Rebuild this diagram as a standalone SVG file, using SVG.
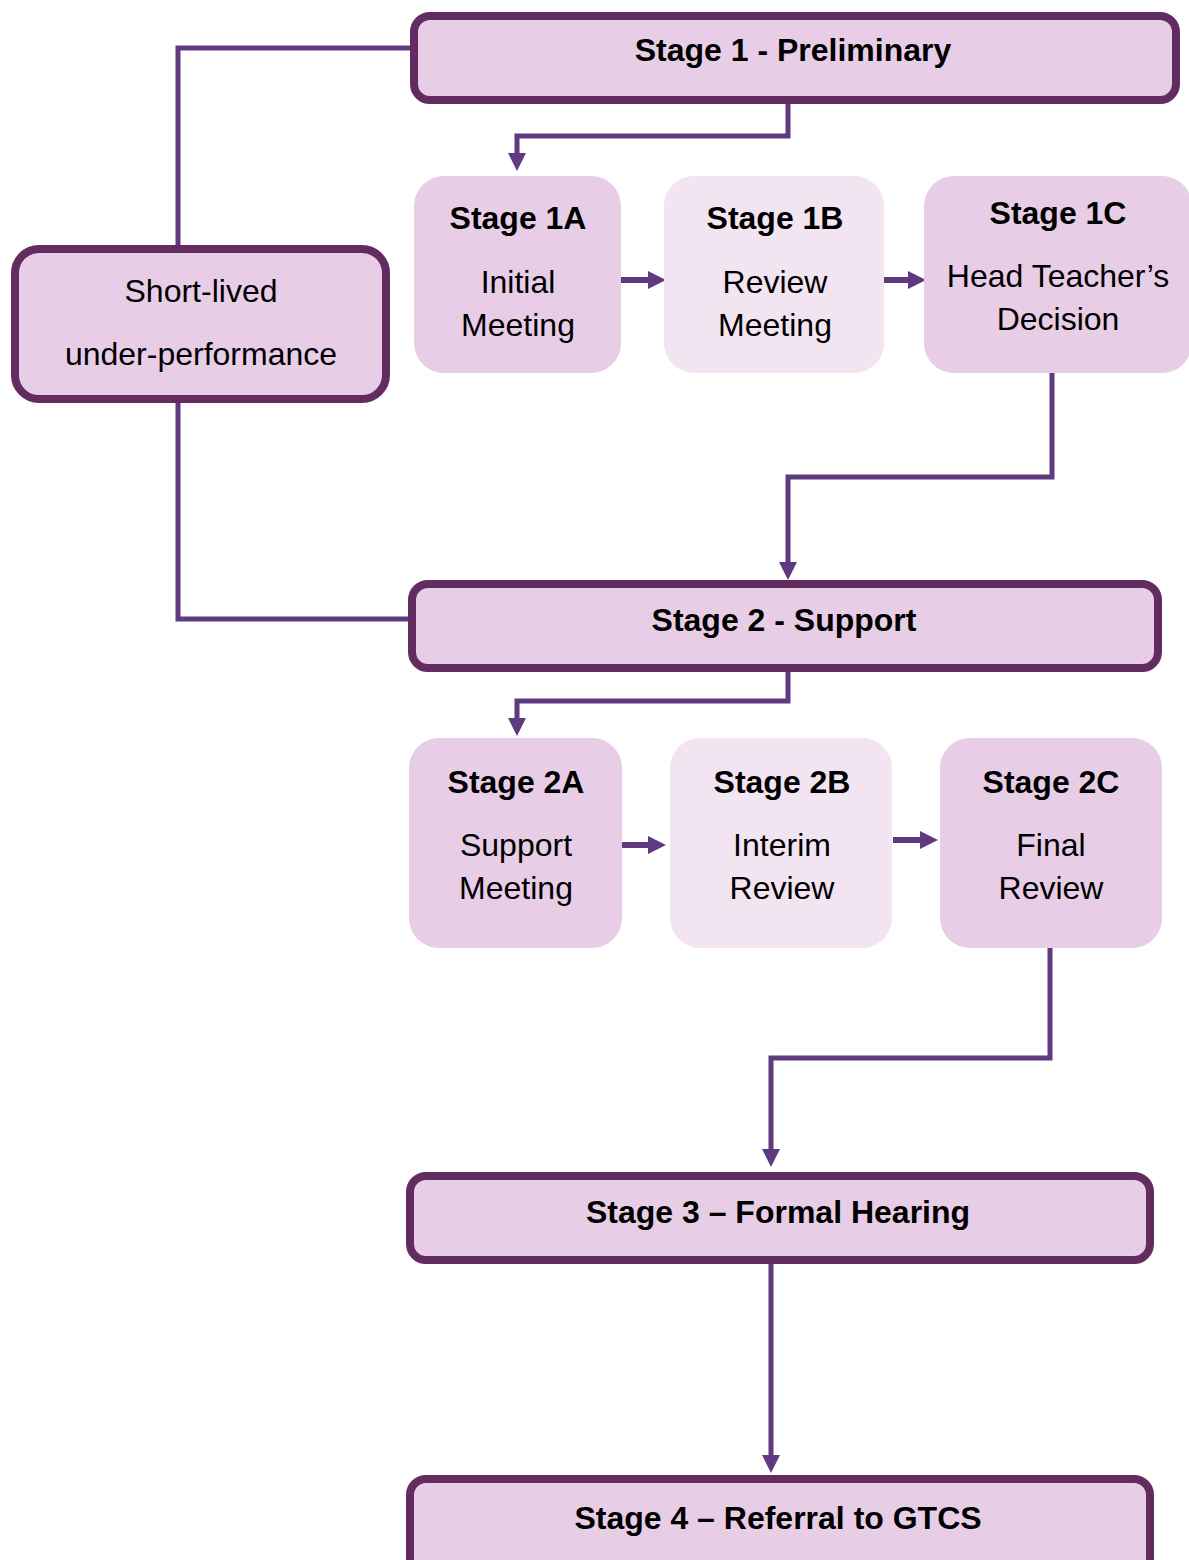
<svg xmlns="http://www.w3.org/2000/svg" width="1189" height="1560" viewBox="0 0 1189 1560">
<style>
.main{fill:#e8cde6;stroke:#632c60;stroke-width:8}
.sub{fill:#e8cde6}
.lite{fill:#f3e4f2}
.b{font-family:"Liberation Sans",Arial,sans-serif;font-weight:bold;font-size:32px;fill:#000;text-anchor:middle}
.r{font-family:"Liberation Sans",Arial,sans-serif;font-size:32px;fill:#000;text-anchor:middle}
.c{fill:none;stroke:#5f3a80;stroke-width:5}
.h{fill:none;stroke:#5f3a80;stroke-width:6}
</style>
<defs>
<marker id="ah" markerUnits="userSpaceOnUse" markerWidth="18" markerHeight="18" refX="0" refY="9" orient="auto" viewBox="0 0 18 18">
<path d="M0,0 L18,9 L0,18 z" fill="#5f3a80"/>
</marker>
</defs>
<rect width="1189" height="1560" fill="#fff"/>
<g id="connectors">
<polyline class="c" points="410,48 178,48 178,245"/>
<polyline class="c" points="178,403 178,619 410,619"/>
<polyline class="c" points="788,103 788,136 517,136 517,153" marker-end="url(#ah)"/>
<line class="h" x1="621" y1="280" x2="648" y2="280" marker-end="url(#ah)"/>
<line class="h" x1="882" y1="280" x2="908" y2="280" marker-end="url(#ah)"/>
<polyline class="c" points="1052,373 1052,477 788,477 788,562" marker-end="url(#ah)"/>
<polyline class="c" points="788,671 788,701 517,701 517,718" marker-end="url(#ah)"/>
<line class="h" x1="622" y1="845" x2="648" y2="845" marker-end="url(#ah)"/>
<line class="h" x1="893" y1="840" x2="920" y2="840" marker-end="url(#ah)"/>
<polyline class="c" points="1050,948 1050,1058 771,1058 771,1149" marker-end="url(#ah)"/>
<line class="c" x1="771" y1="1263" x2="771" y2="1455" marker-end="url(#ah)"/>
</g>
<g id="stage1">
<rect class="main" x="414" y="16" width="762" height="84" rx="16"/>
<text class="b" x="793" y="61">Stage 1 - Preliminary</text>
</g>
<g id="short-lived">
<rect class="main" x="15" y="249" width="371" height="150" rx="24"/>
<text class="r" x="201" y="302">Short-lived</text>
<text class="r" x="201" y="365">under-performance</text>
</g>
<g id="stage1a">
<rect class="sub" x="414" y="176" width="207" height="197" rx="30"/>
<text class="b" x="518" y="229">Stage 1A</text>
<text class="r" x="518" y="293">Initial</text>
<text class="r" x="518" y="336">Meeting</text>
</g>
<g id="stage1b">
<rect class="lite" x="664" y="176" width="220" height="197" rx="30"/>
<text class="b" x="775" y="229">Stage 1B</text>
<text class="r" x="775" y="293">Review</text>
<text class="r" x="775" y="336">Meeting</text>
</g>
<g id="stage1c">
<rect class="sub" x="924" y="176" width="268" height="197" rx="30"/>
<text class="b" x="1058" y="224">Stage 1C</text>
<text class="r" x="1058" y="287">Head Teacher’s</text>
<text class="r" x="1058" y="330">Decision</text>
</g>
<g id="stage2">
<rect class="main" x="412" y="584" width="746" height="84" rx="16"/>
<text class="b" x="784" y="631">Stage 2 - Support</text>
</g>
<g id="stage2a">
<rect class="sub" x="409" y="738" width="213" height="210" rx="30"/>
<text class="b" x="516" y="793">Stage 2A</text>
<text class="r" x="516" y="856">Support</text>
<text class="r" x="516" y="899">Meeting</text>
</g>
<g id="stage2b">
<rect class="lite" x="670" y="738" width="222" height="210" rx="30"/>
<text class="b" x="782" y="793">Stage 2B</text>
<text class="r" x="782" y="856">Interim</text>
<text class="r" x="782" y="899">Review</text>
</g>
<g id="stage2c">
<rect class="sub" x="940" y="738" width="222" height="210" rx="30"/>
<text class="b" x="1051" y="793">Stage 2C</text>
<text class="r" x="1051" y="856">Final</text>
<text class="r" x="1051" y="899">Review</text>
</g>
<g id="stage3">
<rect class="main" x="410" y="1176" width="740" height="84" rx="16"/>
<text class="b" x="778" y="1223">Stage 3 – Formal Hearing</text>
</g>
<g id="stage4">
<rect class="main" x="410" y="1479" width="740" height="120" rx="16"/>
<text class="b" x="778" y="1529">Stage 4 – Referral to GTCS</text>
</g>
</svg>
